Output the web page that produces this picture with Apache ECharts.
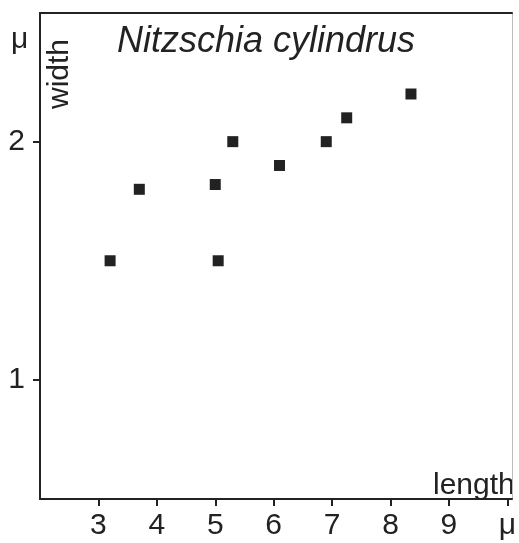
<!DOCTYPE html>
<html>
<head>
<meta charset="utf-8">
<script src="https://cdn.jsdelivr.net/npm/echarts@6/dist/echarts.min.js"></script>
<style>html,body{margin:0;padding:0;background:#fff}#c{width:519px;height:543px}</style>
</head>
<body>
<div id="c"></div>
<script>
const lengths = [3.2, 3.7, 5.0, 5.05, 5.3, 6.1, 6.9, 7.25, 8.35];
const widths  = [1.5, 1.8, 1.82, 1.5, 2.0, 1.9, 2.0, 2.1, 2.2];
const xTickValues = [3, 4, 5, 6, 7, 8, 9, 10];
const xTickLabels = ['3', '4', '5', '6', '7', '8', '9', 'μ'];
const yTickValues = [1, 2];
const yTickLabels = ['1', '2'];
const titleText = 'Nitzschia cylindrus';

const points = lengths.map((v, i) => [v, widths[i]]);
const ink = '#222';
const font = 'Liberation Sans';

const chart = echarts.init(document.getElementById('c'), null, {renderer: 'canvas'});
chart.setOption({
  backgroundColor: '#fff',
  animation: false,
  grid: {left: 40, right: 2, top: 13, bottom: 44, containLabel: false},
  xAxis: [{
    type: 'value', min: 2, max: 10.08, position: 'bottom',
    splitLine: {show: false},
    axisLine: {show: true, onZero: false, lineStyle: {color: ink, width: 2}},
    axisTick: {show: true, customValues: xTickValues, length: 7, lineStyle: {color: ink, width: 2}},
    axisLabel: {show: true, customValues: xTickValues, margin: 12, color: ink, fontSize: 30, fontFamily: font,
      formatter: v => xTickLabels[xTickValues.indexOf(Math.round(v))] || ''}
  }, {
    type: 'value', min: 2, max: 10.08, position: 'top',
    splitLine: {show: false}, axisTick: {show: false}, axisLabel: {show: false},
    axisLine: {show: true, onZero: false, lineStyle: {color: ink, width: 2}}
  }],
  yAxis: [{
    type: 'value', min: 0.5, max: 2.54, position: 'left',
    splitLine: {show: false},
    axisLine: {show: true, onZero: false, lineStyle: {color: ink, width: 2}},
    axisTick: {show: true, customValues: yTickValues, length: 7, lineStyle: {color: ink, width: 2}},
    axisLabel: {show: true, customValues: yTickValues, margin: 15, color: ink, fontSize: 30, fontFamily: font,
      formatter: v => yTickLabels[yTickValues.indexOf(Math.round(v))] || ''}
  }, {
    type: 'value', min: 0.5, max: 2.54, position: 'right',
    splitLine: {show: false}, axisTick: {show: false}, axisLabel: {show: false},
    axisLine: {show: true, onZero: false, lineStyle: {color: '#bbb', width: 1}}
  }],
  series: [{
    type: 'scatter', data: points, symbol: 'rect', symbolSize: 11,
    itemStyle: {color: ink, opacity: 1}
  }],
  graphic: [
    {type: 'text', left: 117, top: 24, style: {text: titleText, font: 'italic 36px "Liberation Sans"', fill: ink}},
    {type: 'text', left: 11, top: 25, style: {text: 'μ', font: '30px "Liberation Sans"', fill: ink}},
    {type: 'text', x: 60, y: 74, rotation: Math.PI / 2, style: {text: 'width', font: '30px "Liberation Sans"', fill: ink, align: 'center', verticalAlign: 'middle'}},
    {type: 'text', left: 433, top: 471, style: {text: 'length', font: '30px "Liberation Sans"', fill: ink}}
  ]
});
</script>
</body>
</html>
